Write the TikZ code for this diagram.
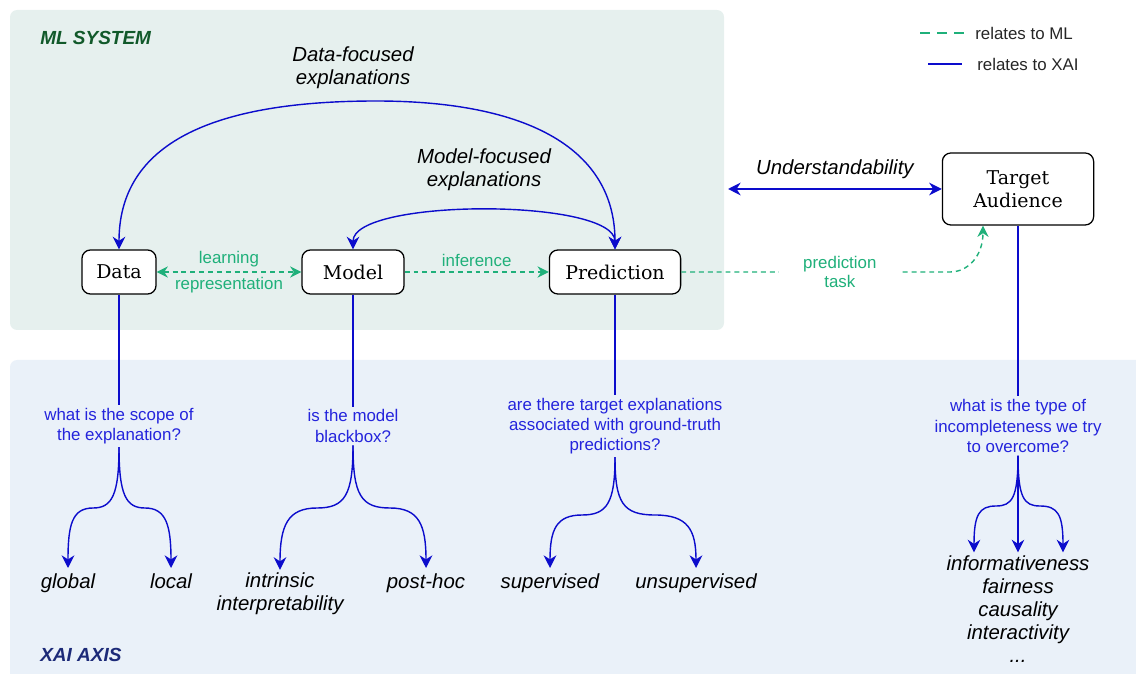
\documentclass[tikz,border=0pt]{standalone}
\usepackage{fontspec}
\setmainfont{Liberation Sans}
\newfontfamily\slabfont{DejaVu Serif}
\usepackage{tikz}
\usetikzlibrary{
  positioning,
  calc,
  arrows.meta
}
\definecolor{mlBack}{HTML}{E6F0EE}
\definecolor{xaiBack}{HTML}{EAF1F9}
\definecolor{mlGreen}{HTML}{1FB07A}
\definecolor{mlDark}{HTML}{11592A}
\definecolor{xaiBlue}{HTML}{0C0CCC}
\definecolor{xaiText}{HTML}{2424DC}
\definecolor{xaiDark}{HTML}{1C2A78}

\tikzstyle{mlline}=[mlGreen, line width=1pt, dash pattern=on 3.5pt off 2.8pt, >={Stealth[length=8pt,width=8pt]}]
\tikzstyle{xailine}=[xaiBlue, line width=1pt, >={Stealth[length=9pt,width=9pt]}]
\tikzstyle{block}=[draw, rounded corners=6pt, line width=0.9pt, fill=white, minimum height=1.1cm, align=center, font=\slabfont\fontsize{13.5}{16.5}\selectfont]
\tikzstyle{question}=[xaiText, align=center, inner sep=2pt, font=\fontsize{12}{14.4}\selectfont]
\tikzstyle{answer}=[text=black, align=center, inner sep=2pt, font=\itshape\fontsize{14.5}{16.4}\selectfont]
\tikzstyle{mllabel}=[mlGreen, font=\fontsize{12}{14}\selectfont]
\tikzstyle{title}=[anchor=west, inner sep=0pt, font=\bfseries\itshape\fontsize{13.5}{16}\selectfont]
\tikzstyle{legend}=[anchor=west, inner sep=0pt, text=black!85, font=\fontsize{12}{14}\selectfont]

\begin{document}
\begin{tikzpicture}[x=0.025cm, y=-0.025cm]
  \useasboundingbox (0,0) rectangle (1136,674);

  % 背景
  \fill[mlBack, rounded corners=5pt] (10,10) rectangle (724,330);
  \fill[xaiBack, rounded corners=5pt] (10,360) rectangle (1150,690);
  \node[title, mlDark] (mltitle) at (40,38) {ML SYSTEM};
  \node[title, xaiDark] (xaititle) at (40,655) {XAI AXIS};

  % 凡例
  \node[legend] (mlkey) at (975,33) {relates to ML};
  \node[legend] (xaikey) at (977,64) {relates to XAI};
  \draw[mlline, line width=2pt, dash pattern=on 7pt off 5pt] (920,33) -- (965,33);
  \draw[xailine, line width=2pt] (928,64) -- (962,64);

  % ブロック
  \node[block, minimum width=1.85cm] (data) at (119,272) {Data};
  \node[block, minimum width=2.55cm] (model) at (353,272) {Model};
  \node[block, minimum width=3.28cm] (pred) at (615,272) {Prediction};
  \node[block, minimum width=3.78cm, minimum height=1.8cm] (aud) at (1018,189) {Target\\Audience};

  % MLの矢印
  \draw[mlline, <->] (data) -- node[mllabel, above] {learning} node[mllabel, below] {representation} (model);
  \draw[mlline, ->] (model) -- node[mllabel, above] {inference} (pred);
  \draw[mlline, ->] (pred) -- node[mllabel, pos=0.59, fill=white, inner xsep=0.6cm, align=center] (task) {prediction\\task} (950,272)
    .. controls (968,272) and (983,256) .. ($(aud.south)+(-35,0)$);

  % 説明の矢印
  \coordinate (undleft) at (728,189);
  \draw[xailine, <->] (undleft) -- node[answer, above=5pt] (und) {Understandability} (aud);
  \draw[xailine, <->] (pred.north) .. controls (615,150) and (530,101) .. (376,101)
    .. controls (200,101) and (119,150) .. (data.north);
  \node[answer] (datafoc) at (353,68) {Data-focused\\explanations};
  \draw[xailine, <->] (pred.north) .. controls (615,198) and (353,198) .. (model.north);
  \node[answer] (modelfoc) at (484,170) {Model-focused\\explanations};

  % 問い
  \node[question] (q1) at (119,426) {what is the scope of\\the explanation?};
  \node[question] (q2) at (353,426) {is the model\\blackbox?};
  \node[question] (q3) at (615,426) {are there target explanations\\associated with ground-truth\\predictions?};
  \node[question] (q4) at (1018,426) {what is the type of\\incompleteness we try\\to overcome?};
  \draw[xailine] (data) -- (q1);
  \draw[xailine] (model) -- (q2);
  \draw[xailine] (pred) -- (q3);
  \draw[xailine] (aud) -- (q4);

  % 答え
  \node[answer, anchor=base] (glob) at (68,588) {global};
  \node[answer, anchor=base] (loc) at (171,588) {local};
  \node[answer] (intr) at (280,594) {intrinsic\\interpretability};
  \node[answer, anchor=base] (post) at (426,588) {post-hoc};
  \node[answer, anchor=base] (sup) at (550,588) {supervised};
  \node[answer, anchor=base] (unsup) at (696,588) {unsupervised};
  \node[answer] (traits) at (1018,609) {informativeness\\fairness\\causality\\interactivity\\...};
  \coordinate (t1) at ($(traits.north)+(-44,0)$);
  \coordinate (t3) at ($(traits.north)+(45,0)$);

  % 分岐
  \draw[xailine, ->] (q1.south) .. controls (119,495) and (112,508) .. (93,508) .. controls (72,508) and (68,525) .. (68,568);
  \draw[xailine, ->] (q1.south) .. controls (119,495) and (126,508) .. (145,508) .. controls (166,508) and (171,525) .. (171,568);
  \draw[xailine, ->] (q2.south) .. controls (353,495) and (345,508) .. (317,508) .. controls (288,508) and (280,525) .. (intr.north);
  \draw[xailine, ->] (q2.south) .. controls (353,495) and (361,508) .. (390,508) .. controls (419,508) and (426,525) .. (426,568);
  \draw[xailine, ->] (q3.south) .. controls (615,503) and (607,515) .. (582,515) .. controls (556,515) and (550,530) .. (550,568);
  \draw[xailine, ->] (q3.south) .. controls (615,503) and (623,515) .. (655,515) .. controls (688,515) and (696,530) .. (696,568);
  \draw[xailine, ->] (q4.south) .. controls (1018,498) and (1012,506) .. (996,506) .. controls (979,506) and (974,515) .. (t1);
  \draw[xailine, ->] (q4.south) -- (traits);
  \draw[xailine, ->] (q4.south) .. controls (1018,498) and (1024,506) .. (1040,506) .. controls (1058,506) and (1063,515) .. (t3);
\end{tikzpicture}
\end{document}
